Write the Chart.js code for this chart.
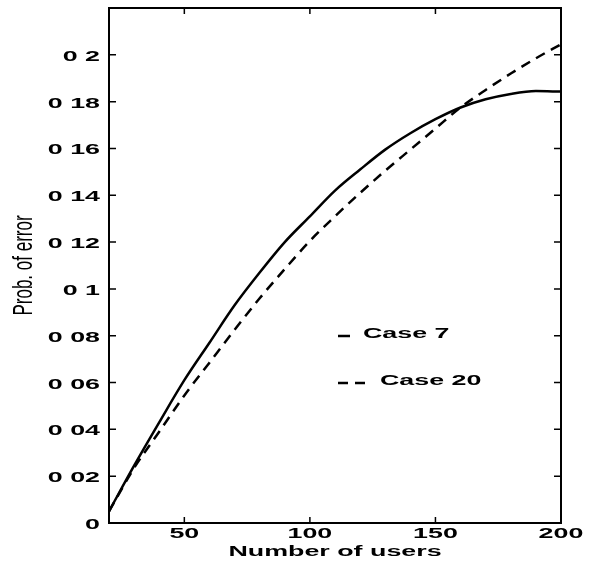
<!DOCTYPE html>
<html>
<head>
<meta charset="utf-8">
<script src="https://cdn.jsdelivr.net/npm/chart.js@4/dist/chart.umd.min.js"></script>
<style>
  html, body { margin: 0; padding: 0; background: #fff; }
  #wrap { width: 605px; height: 571px; }
</style>
</head>
<body>
<div id="wrap"><canvas id="errChart" width="605" height="571"></canvas></div>
<script>
// Probability of error vs number of users
const users = [20, 30, 40, 50, 60, 70, 80, 90, 100, 110, 120, 130, 140, 150, 160, 170, 180, 190, 200]
const case7 = [0.005, 0.0245, 0.043, 0.061, 0.077, 0.093, 0.107, 0.120, 0.131, 0.142, 0.151, 0.1595, 0.1665, 0.1725, 0.1775, 0.181, 0.1833, 0.1845, 0.1843]
const case20 = [0.005, 0.0235, 0.039, 0.0545, 0.0685, 0.0825, 0.096, 0.1085, 0.1205, 0.131, 0.141, 0.1505, 0.1595, 0.1685, 0.1775, 0.185, 0.192, 0.1985, 0.2045]
const xTicks = [50, 100, 150, 200]
const yTicks = [0, 0.02, 0.04, 0.06, 0.08, 0.1, 0.12, 0.14, 0.16, 0.18, 0.2]
const xRange = [20, 200]
const yRange = [0, 0.22]

const LABEL_FONT = "bold 14.5px 'Liberation Sans', Arial, sans-serif"
const TITLE_FONT = "17px 'Liberation Sans', Arial, sans-serif"
const STRETCH = 1.85

function tickText(v) {
  if (v === 0) return "0"
  return "0 " + String(Math.round(v * 100) / 100).split(".")[1]
}

// text is drawn wide, like the old plotter output
function wideText(ctx, text, x, y, align) {
  ctx.save()
  ctx.translate(x, y)
  ctx.scale(STRETCH, 1)
  ctx.textAlign = align
  ctx.textBaseline = "middle"
  ctx.fillText(text, 0, 0)
  ctx.restore()
}

const framePlugin = {
  id: "frame",
  afterDraw(chart) {
    const ctx = chart.ctx
    const a = chart.chartArea
    const xs = chart.scales.x
    const ys = chart.scales.y
    ctx.save()
    ctx.strokeStyle = "#000"
    ctx.fillStyle = "#000"

    // box
    ctx.lineWidth = 2
    ctx.strokeRect(a.left, a.top, a.right - a.left, a.bottom - a.top)

    // inward ticks
    ctx.lineWidth = 1.5
    ctx.beginPath()
    xTicks.forEach((v) => {
      const px = xs.getPixelForValue(v)
      ctx.moveTo(px, a.bottom)
      ctx.lineTo(px, a.bottom - 6)
      ctx.moveTo(px, a.top)
      ctx.lineTo(px, a.top + 6)
    })
    yTicks.forEach((v) => {
      const py = ys.getPixelForValue(v)
      ctx.moveTo(a.left, py)
      ctx.lineTo(a.left + 7, py)
      ctx.moveTo(a.right, py)
      ctx.lineTo(a.right - 7, py)
    })
    ctx.stroke()

    // tick labels
    ctx.font = LABEL_FONT
    yTicks.forEach((v) => {
      wideText(ctx, tickText(v), a.left - 9, ys.getPixelForValue(v) + 2, "right")
    })
    xTicks.forEach((v) => {
      wideText(ctx, String(v), xs.getPixelForValue(v), a.bottom + 11, "center")
    })

    // axis titles
    wideText(ctx, "Number of users", (a.left + a.right) / 2, a.bottom + 29, "center")
    ctx.save()
    ctx.font = TITLE_FONT
    ctx.translate(24, (a.top + a.bottom) / 2)
    ctx.scale(1.6, 1)
    ctx.rotate(-Math.PI / 2)
    ctx.textAlign = "center"
    ctx.textBaseline = "middle"
    ctx.fillText("Prob. of error", 0, 0)
    ctx.restore()

    // legend inside the axes
    const lx = a.left + 229
    const rows = [a.top + 326, a.top + 373]
    chart.data.datasets.forEach((ds, i) => {
      const y = rows[i]
      ctx.lineWidth = 2.5
      ctx.setLineDash(ds.borderDash || [])
      ctx.beginPath()
      ctx.moveTo(lx, y + 2)
      ctx.lineTo(lx + (ds.borderDash ? 30 : 12), y + 2)
      ctx.stroke()
      ctx.setLineDash([])
      ctx.font = LABEL_FONT
      wideText(ctx, ds.label, lx + (ds.borderDash ? 42 : 25), y, "left")
    })
    ctx.restore()
  },
}

new Chart(document.getElementById("errChart"), {
  type: "line",
  data: {
    datasets: [
      {
        label: "Case 7",
        data: users.map((u, i) => ({ x: u, y: case7[i] })),
        borderColor: "#000",
        borderWidth: 2.5,
        pointRadius: 0,
        cubicInterpolationMode: "monotone",
        fill: false,
      },
      {
        label: "Case 20",
        data: users.map((u, i) => ({ x: u, y: case20[i] })),
        borderColor: "#000",
        borderWidth: 2.5,
        borderDash: [10, 7],
        pointRadius: 0,
        cubicInterpolationMode: "monotone",
        fill: false,
      },
    ],
  },
  options: {
    responsive: false,
    animation: false,
    devicePixelRatio: 1,
    layout: {
      padding: { left: 109, right: 44, top: 8, bottom: 48 },
    },
    plugins: {
      legend: { display: false },
      tooltip: { enabled: false },
    },
    scales: {
      x: { type: "linear", display: false, min: xRange[0], max: xRange[1] },
      y: { type: "linear", display: false, min: yRange[0], max: yRange[1] },
    },
  },
  plugins: [framePlugin],
})
</script>
</body>
</html>
